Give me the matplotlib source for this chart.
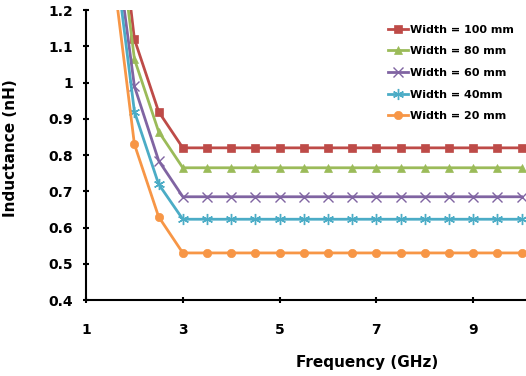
import matplotlib
matplotlib.use("Agg")
import matplotlib.pyplot as plt
import numpy as np

# frequency points (GHz)
freq = [1.5, 2, 2.5, 3, 3.5, 4, 4.5, 5, 5.5, 6, 6.5, 7, 7.5, 8, 8.5, 9, 9.5, 10]

labels = ["Width = 100 mm", "Width = 80 mm", "Width = 60 mm", "Width = 40mm", "Width = 20 mm"]

w100 = [1.69, 1.12, 0.92] + [0.82] * 15
w80 = [1.605, 1.065, 0.865] + [0.765] * 15
w60 = [1.495, 0.99, 0.785] + [0.685] * 15
w40 = [1.455, 0.92, 0.72] + [0.623] * 15
w20 = [1.37, 0.83, 0.63] + [0.53] * 15

colors = ["#BE4B48", "#9BBB59", "#8064A2", "#4BACC6", "#F79646"]
markers = ["s", "^", "x", (6, 2, 0), "o"]
msizes = [5.5, 6, 7, 8, 6]
mews = [0.5, 0.5, 1, 1, 0.5]

fig = plt.figure(figsize=(5.26, 3.76), dpi=100)
ax = fig.add_axes([0.1635, 0.202, 0.8365, 0.771])

for vals, lab, c, m, ms, mew in zip([w100, w80, w60, w40, w20], labels, colors, markers, msizes, mews):
    ax.plot(freq, vals, color=c, marker=m, markersize=ms, linewidth=2,
            markeredgewidth=mew, label=lab)

ax.set_xlim(1, 10.09)
ax.set_ylim(0.4, 1.2)
ax.set_xticks([1, 3, 5, 7, 9])
ax.set_yticks(np.round(np.arange(0.4, 1.21, 0.1), 1))
ax.set_yticklabels(["0.4", "0.5", "0.6", "0.7", "0.8", "0.9", "1", "1.1", "1.2"])

for s in ["top", "right"]:
    ax.spines[s].set_visible(False)
for s in ["left", "bottom"]:
    ax.spines[s].set_linewidth(1.5)

ax.tick_params(axis="both", direction="inout", length=5, width=1.5, labelsize=10)
ax.tick_params(axis="x", pad=14)
ax.tick_params(axis="y", pad=7)
for t in ax.get_xticklabels() + ax.get_yticklabels():
    t.set_fontweight("bold")

ax.set_xlabel("Frequency (GHz)", fontsize=11, fontweight="bold")
ax.xaxis.set_label_coords(0.639, -0.19)
ax.set_ylabel("Inductance (nH)", fontsize=11, fontweight="bold")
ax.yaxis.set_label_coords(-0.155, 0.524)

leg = ax.legend(loc="upper right", bbox_to_anchor=(0.995, 0.985), frameon=False,
                prop={"weight": "bold", "size": 8}, handlelength=1.8,
                handletextpad=0.15, labelspacing=1.05)

fig.savefig("out.png", dpi=100)
